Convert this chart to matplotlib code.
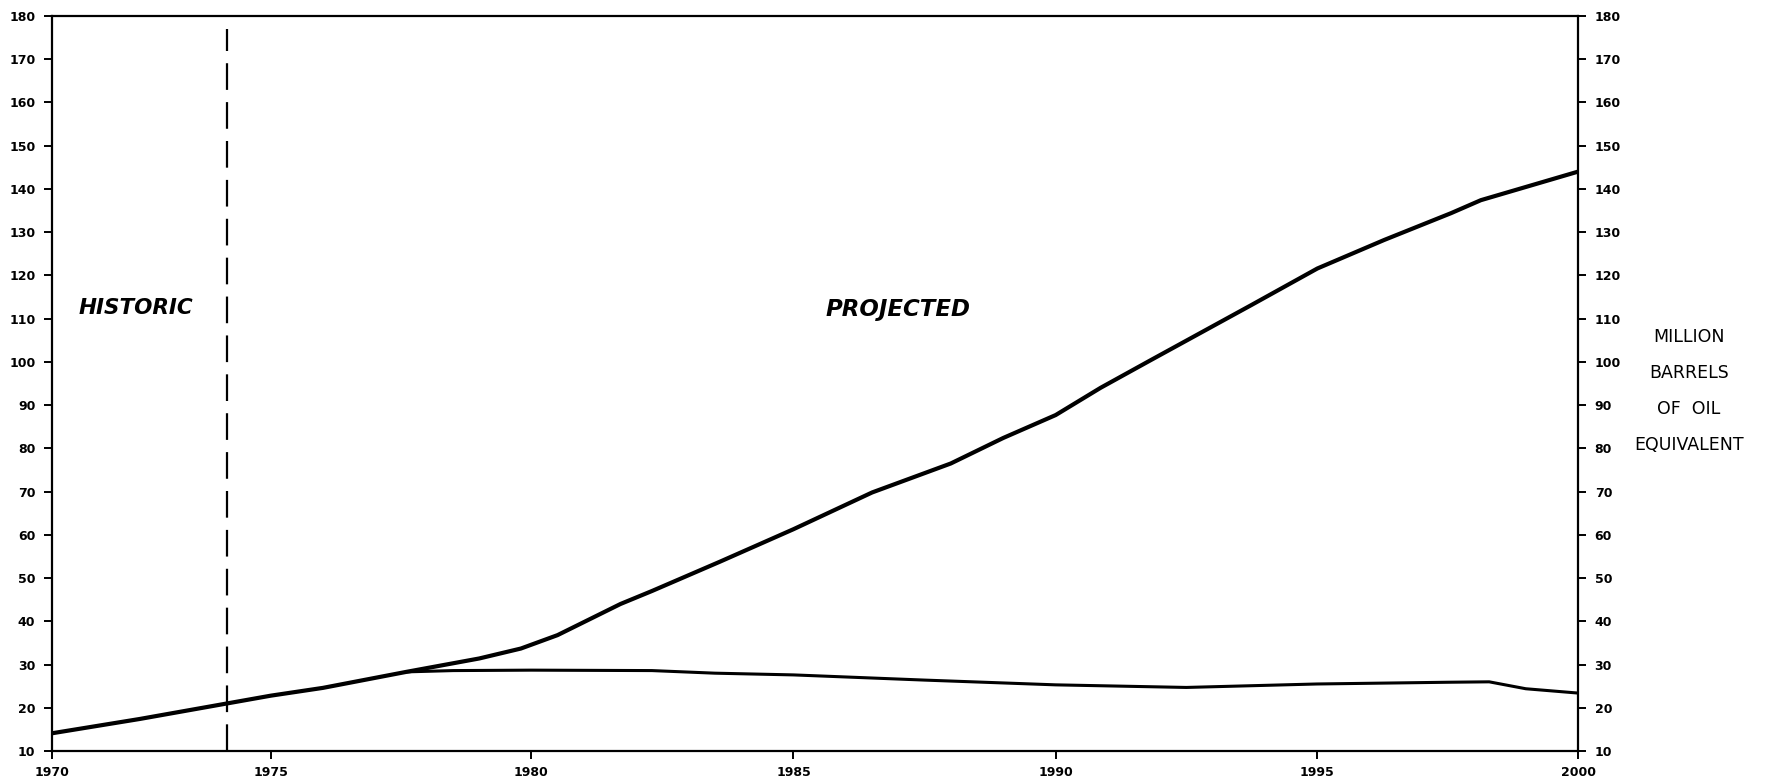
import matplotlib
matplotlib.use("Agg")
import matplotlib.pyplot as plt
import numpy as np

# ---- data ----
total_years = [1970, 1972, 1974, 1975, 1976, 1977.6, 1979, 1979.8, 1980.5,
               1981, 1981.7, 1982.3, 1983.6, 1985, 1986.5, 1988, 1989, 1990,
               1990.86, 1991.82, 1993.74, 1995.01, 1996.29, 1997.57, 1998.14,
               2000]
total_values = [14.1, 17.4, 21.0, 22.8, 24.6, 28.3, 31.4, 33.7, 36.8,
                39.8, 44.0, 47.0, 53.8, 61.3, 69.8, 76.5, 82.4, 87.7,
                94.0, 100.4, 113.1, 121.6, 128.2, 134.4, 137.4,
                144.0]

lower_years = [1977.6, 1978.5, 1980, 1982.3, 1983.5, 1985, 1987.5, 1990,
               1992.5, 1995, 1997.5, 1998.3, 1999, 2000]
lower_values = [28.3, 28.6, 28.7, 28.6, 28.0, 27.6, 26.4, 25.3,
                24.7, 25.5, 25.9, 26.0, 24.4, 23.4]

divider_year = 1974
x_ticks = [1970, 1975, 1980, 1985, 1990, 1995, 2000]
y_ticks = list(range(10, 181, 10))
unit_label = "MILLION\nBARRELS\nOF  OIL\nEQUIVALENT"

# hand-drawn original: the year ticks are not evenly spaced (pixel positions)
tick_pixel_pos = [52, 270.7, 531, 793, 1055, 1316, 1577]


def fwd(x):
    return np.interp(x, x_ticks, tick_pixel_pos)


def inv(p):
    return np.interp(p, tick_pixel_pos, x_ticks)


W, H = 1785, 781
fig = plt.figure(figsize=(W / 100, H / 100), dpi=100)
ax = fig.add_axes([52 / W, 1 - 751 / H, (1578 - 52) / W, (751 - 16) / H])
ax.set_xscale("function", functions=(fwd, inv))

ax.plot(total_years, total_values, color="black", lw=3.0, solid_capstyle="butt",
        solid_joinstyle="round")
ax.plot(lower_years, lower_values, color="black", lw=2.2, solid_capstyle="butt",
        solid_joinstyle="round")
ax.plot([divider_year, divider_year], [10, 177], color="black", lw=1.6,
        linestyle=(0, (12, 5.5)))

ax.set_xlim(1970, 2000)
ax.set_ylim(10, 180)
ax.set_xticks(x_ticks)
ax.set_yticks(y_ticks)
ax.set_xticklabels([str(t) for t in x_ticks])
ax.set_yticklabels([str(t) for t in y_ticks])
ax.minorticks_off()

for s in ax.spines.values():
    s.set_linewidth(1.6)
    s.set_color("black")

ax.tick_params(axis="both", direction="out", length=6, width=1.4,
               labelsize=9, pad=5, colors="black")
ax.tick_params(axis="y", left=True, right=True, labelleft=True, labelright=True,
               pad=6)
for lab in ax.get_xticklabels() + ax.get_yticklabels():
    lab.set_fontweight("bold")
for t in ax.yaxis.get_major_ticks():
    t.label2.set_fontweight("bold")
    t.label2.set_fontsize(9)

fig.text(135.5 / W, 1 - 308 / H, "HISTORIC", fontsize=15.5, style="italic",
         fontweight="bold", ha="center", va="center", color="black")
fig.text(898 / W, 1 - 309 / H, "PROJECTED", fontsize=16.5, style="italic",
         fontweight="bold", ha="center", va="center", color="black")

fig.text(1689 / W, 1 - 391 / H, unit_label, fontsize=12.5, ha="center",
         va="center", linespacing=2.3, color="black")

fig.savefig("out.png", dpi=100, facecolor="white")
